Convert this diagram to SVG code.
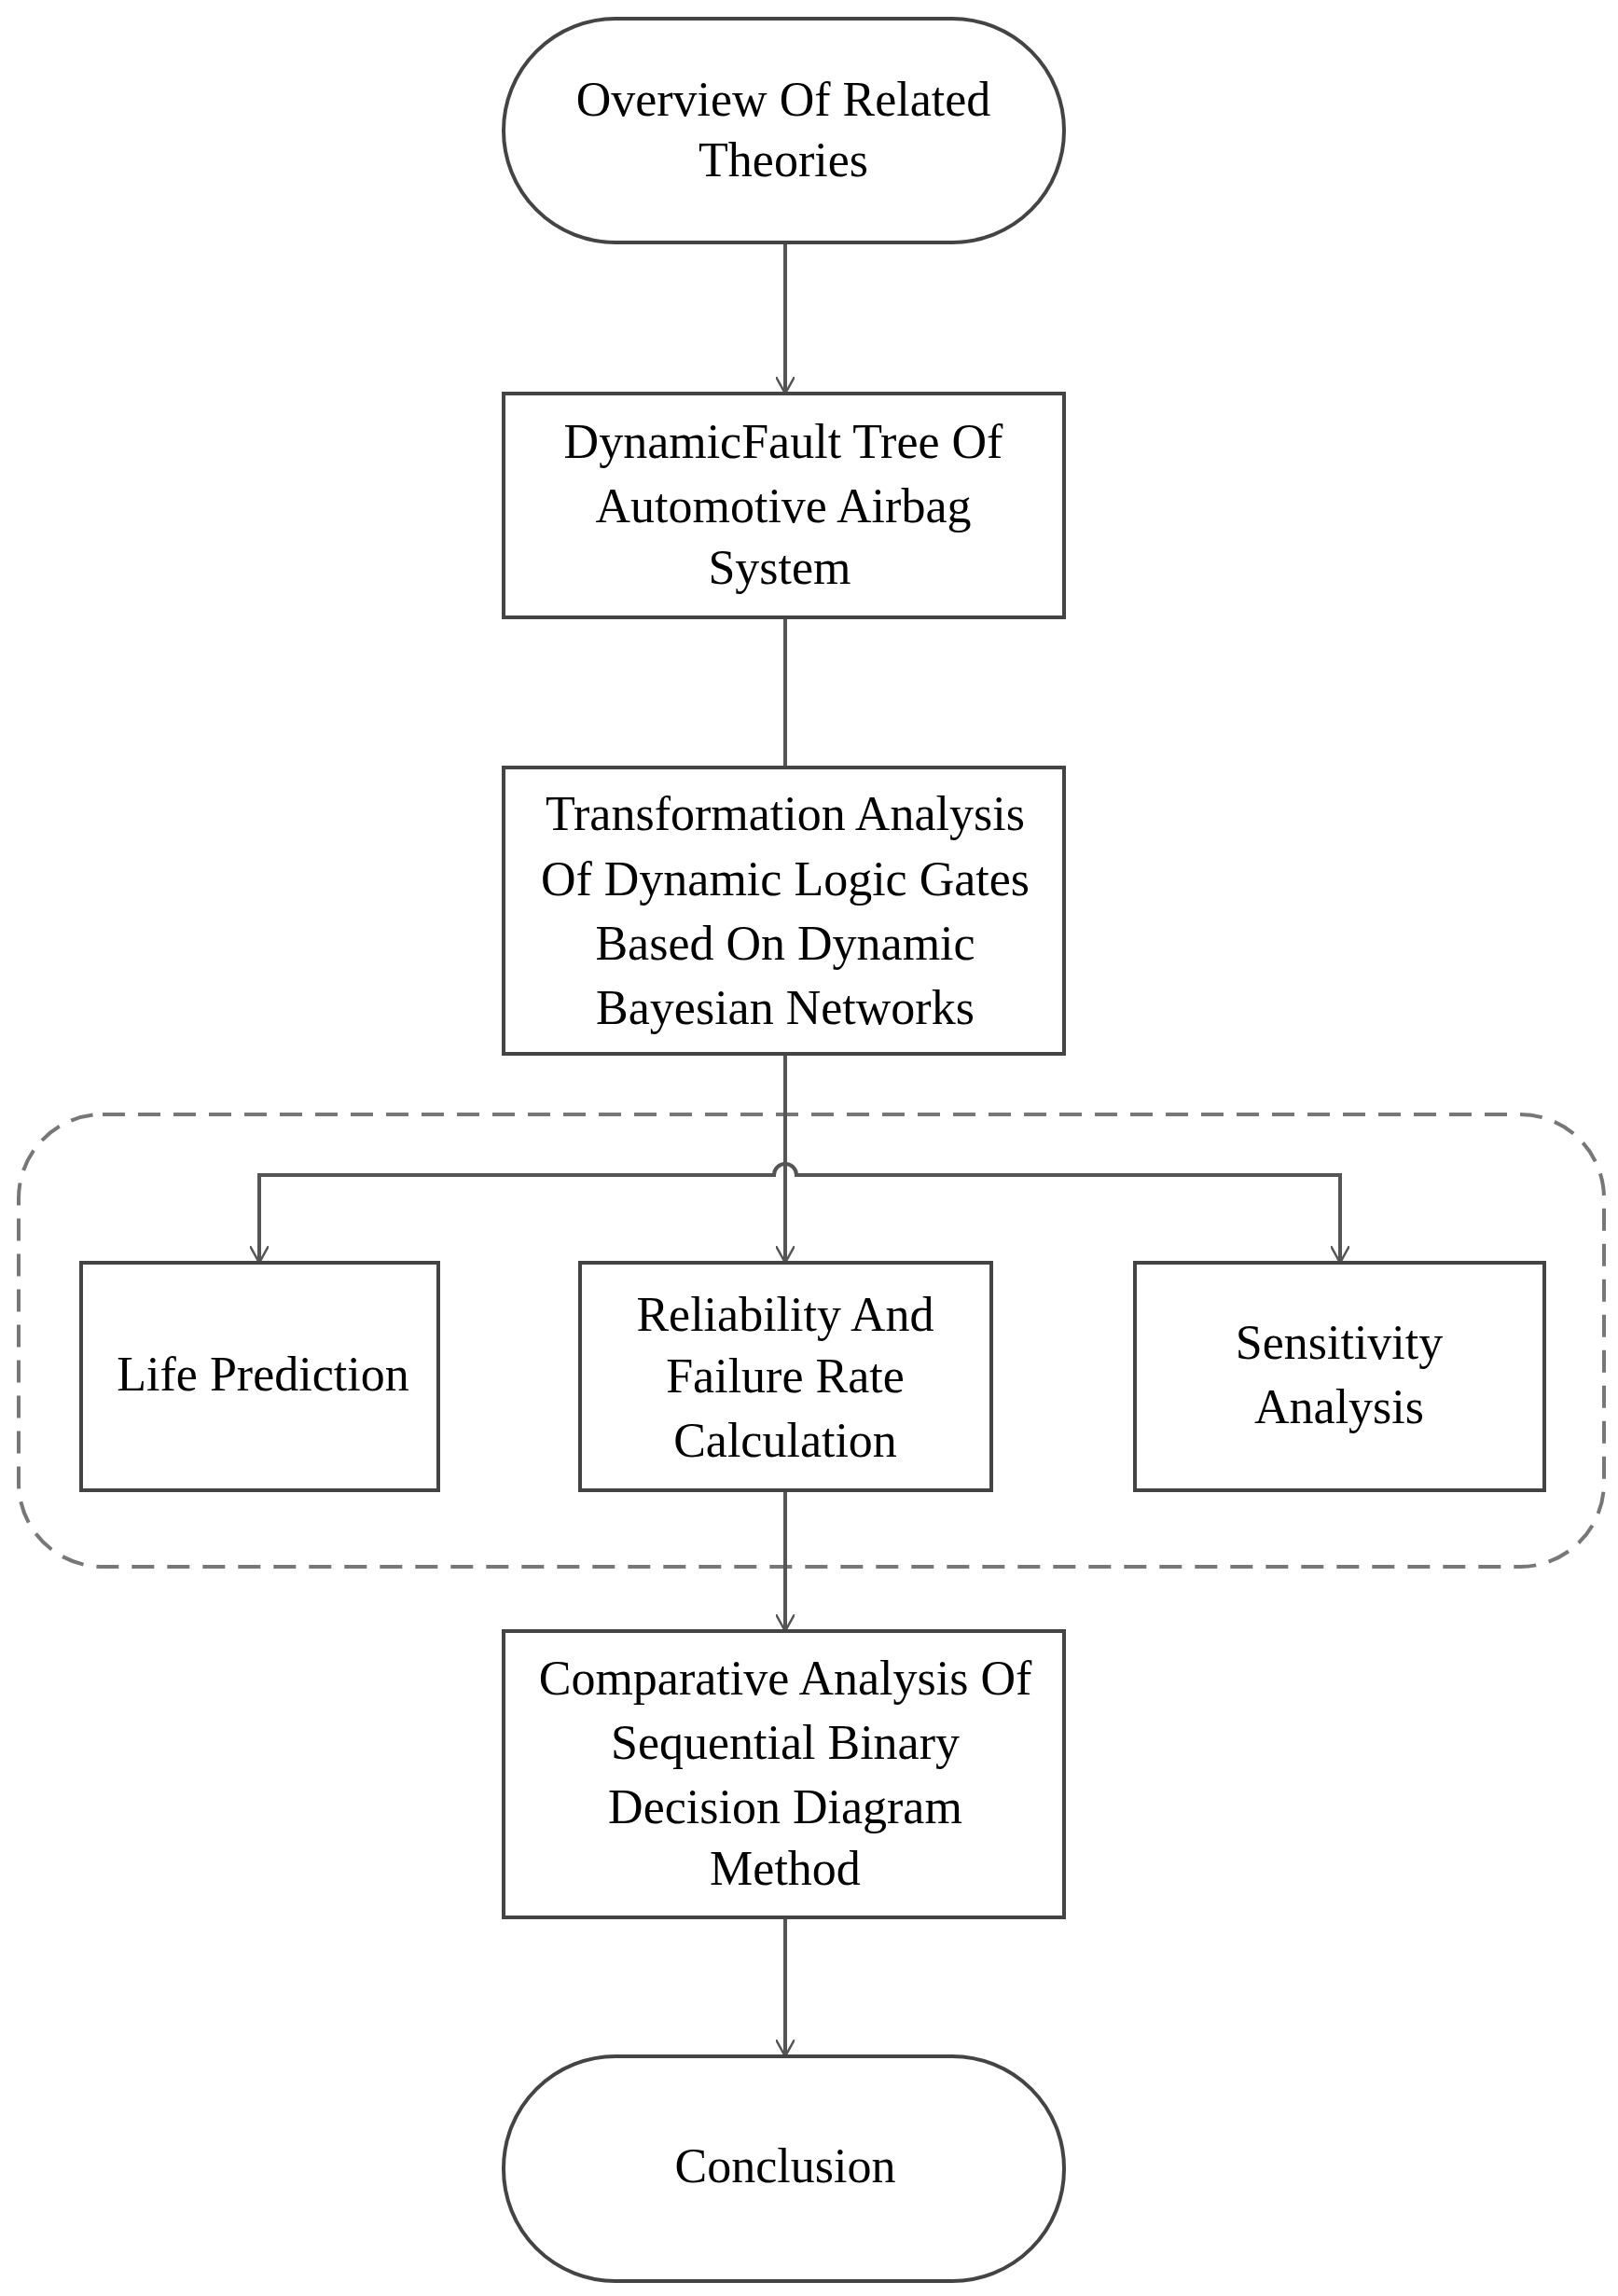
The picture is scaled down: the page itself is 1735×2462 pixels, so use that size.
<svg xmlns="http://www.w3.org/2000/svg" width="1735" height="2462" viewBox="0 0 1735 2462">
<style>
.n{fill:#fff;stroke:#444;stroke-width:4}
.t{font-family:"Liberation Serif",serif;font-size:52px;fill:#000;text-anchor:middle}
.c{fill:none;stroke:#555;stroke-width:4}
</style>
<defs><marker id="a" viewBox="0 0 20 20" refX="18" refY="10" markerWidth="20" markerHeight="20" markerUnits="userSpaceOnUse" orient="auto"><path d="M0,0 L18,10 L0,20" fill="none" stroke="#555" stroke-width="2.5"/></marker></defs>
<rect width="1735" height="2462" fill="#fff"/>
<rect id="group" x="20" y="1195" width="1700" height="485" rx="90" fill="none" stroke="#777" stroke-width="4" stroke-dasharray="24 14"/>
<g id="connectors">
<path class="c" d="M842,260 V422" marker-end="url(#a)"/>
<path class="c" d="M842,662 V823"/>
<path class="c" d="M842,823 V1354" marker-end="url(#a)"/>
<path class="c" d="M278,1354 V1260 H830 A12,12 0 0 1 854,1260 H1437 V1354" marker-end="url(#a)"/>
<path class="c" d="M278,1262 V1354" marker-end="url(#a)"/>
<path class="c" d="M842,1598 V1749" marker-end="url(#a)"/>
<path class="c" d="M842,2056 V2205" marker-end="url(#a)"/>
</g>
<g id="n1"><rect class="n" x="540" y="20" width="601" height="240" rx="120"/><text class="t" x="840" y="124">Overview Of Related</text><text class="t" x="840" y="189">Theories</text></g>
<g id="n2"><rect class="n" x="540" y="422" width="601" height="240"/><text class="t" x="840" y="491">DynamicFault Tree Of</text><text class="t" x="840" y="560">Automotive Airbag</text><text class="t" x="836" y="626">System</text></g>
<g id="n3"><rect class="n" x="540" y="823" width="601" height="307"/><text class="t" x="842" y="890">Transformation Analysis</text><text class="t" x="842" y="960">Of Dynamic Logic Gates</text><text class="t" x="842" y="1029">Based On Dynamic</text><text class="t" x="842" y="1098">Bayesian Networks</text></g>
<g id="n4"><rect class="n" x="87" y="1354" width="383" height="244"/><text class="t" x="282" y="1491">Life Prediction</text></g>
<g id="n5"><rect class="n" x="622" y="1354" width="441" height="244"/><text class="t" x="842" y="1427">Reliability And</text><text class="t" x="842" y="1493">Failure Rate</text><text class="t" x="842" y="1562">Calculation</text></g>
<g id="n6"><rect class="n" x="1217" y="1354" width="439" height="244"/><text class="t" x="1436" y="1457">Sensitivity</text><text class="t" x="1436" y="1526">Analysis</text></g>
<g id="n7"><rect class="n" x="540" y="1749" width="601" height="307"/><text class="t" x="842" y="1817">Comparative Analysis Of</text><text class="t" x="842" y="1886">Sequential Binary</text><text class="t" x="842" y="1955">Decision Diagram</text><text class="t" x="842" y="2021">Method</text></g>
<g id="n8"><rect class="n" x="540" y="2205" width="601" height="241" rx="120"/><text class="t" x="842" y="2340">Conclusion</text></g>
</svg>
